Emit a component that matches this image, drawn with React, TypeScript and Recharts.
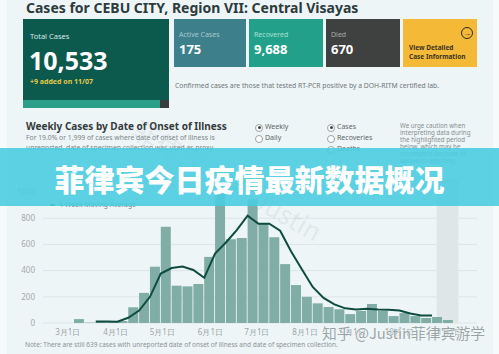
import React from 'react';
import { ComposedChart, Bar, Line, XAxis, YAxis, CartesianGrid, ReferenceArea } from 'recharts';

// week start dates (onset of illness, weekly buckets)
const weekStarts = [
  '2020-03-05', '2020-03-12', '2020-03-19', '2020-03-26', '2020-04-02', '2020-04-09', '2020-04-16',
  '2020-04-23', '2020-04-30', '2020-05-07', '2020-05-14', '2020-05-21', '2020-05-28', '2020-06-04',
  '2020-06-11', '2020-06-18', '2020-06-25', '2020-07-02', '2020-07-09', '2020-07-16', '2020-07-23',
  '2020-07-30', '2020-08-06', '2020-08-13', '2020-08-20', '2020-08-27', '2020-09-03', '2020-09-10',
  '2020-09-17', '2020-09-24', '2020-10-01', '2020-10-08', '2020-10-15', '2020-10-22', '2020-10-29',
];

const weeklyCases = [
  30, 3, 8, 6, 15, 120, 230, 430, 735, 285, 280, 298, 505, 1010, 640, 650, 945, 760,
  655, 450, 290, 200, 150, 122, 105, 68, 92, 145, 92, 53, 76, 53, 38, 46, 23,
];

// 4-week moving average (null = not drawn)
const movingAverage = [
  null, null, 12, 12, 10, 40, 95, 200, 378, 420, 432, 405, 345, 530, 615, 710, 820, 758,
  758, 705, 548, 410, 275, 192, 142, 112, 104, 108, 104, 102, 95, 72, 58, 58, null,
];

const monthTicks = [
  '2020-03-01', '2020-04-01', '2020-05-01', '2020-06-01', '2020-07-01',
  '2020-08-01', '2020-09-01', '2020-10-01', '2020-11-01',
];
const monthLabels = ['3月1日', '4月1日', '5月1日', '6月1日', '7月1日', '8月1日', '9月1日', '10月1日', '11月1日'];
const yTicks = [0, 200, 400, 600, 800, 1000];

const highlightFrom = '2020-10-25';
const highlightTo = '2020-11-07';

const dayOf = (iso: string) => {
  const [y, m, d] = iso.split('-').map(Number);
  return (Date.UTC(y, m - 1, d) - Date.UTC(2020, 2, 1)) / 86400000;
};

const barData = weekStarts.map((d, i) => ({ x: dayOf(d) + 3.5, cases: weeklyCases[i] }));
const lineData = weekStarts
  .map((d, i) => ({ t: dayOf(d), ma: movingAverage[i] }))
  .filter((p) => p.ma !== null);
const tickDays = monthTicks.map(dayOf);
const X_DOMAIN = [-16, 264];

const FONT = '"Noto Sans", "Open Sans", sans-serif';

function Txt({ x, y, size, color, weight = 400, children, style }: any) {
  return (
    <div
      style={{
        position: 'absolute', left: x, top: y - size * 0.6, fontSize: size, lineHeight: 1.2,
        color, fontWeight: weight, whiteSpace: 'nowrap', ...style,
      }}
    >
      {children}
    </div>
  );
}

function Card({ x, w, bg, label, value, labelColor }: any) {
  return (
    <div style={{ position: 'absolute', left: x, top: 19, width: w, height: 48, background: bg }}>
      <Txt x={5} y={16} size={7} color={labelColor}>{label}</Txt>
      <Txt x={5} y={31} size={13} color="#fff" weight={700}>{value}</Txt>
    </div>
  );
}

function WeeklyChart() {
  return (
    <ComposedChart
      width={499}
      height={173}
      data={barData}
      margin={{ top: 9, right: 22, bottom: 0, left: 13 }}
    >
      <CartesianGrid vertical={false} stroke="#dbe5e7" strokeWidth={1} />
      <ReferenceArea x1={dayOf(highlightFrom)} x2={dayOf(highlightTo) + 1} fill="#dfe6e7" fillOpacity={1} stroke="none" />
      <XAxis
        dataKey="x"
        type="number"
        domain={X_DOMAIN}
        ticks={tickDays}
        tickFormatter={(v: number) => monthLabels[tickDays.indexOf(v)]}
        axisLine={false}
        tickLine={false}
        tickSize={0}
        tickMargin={6}
        height={20}
        tick={{ fontSize: 8, fill: '#9aa6a8', fontFamily: FONT }}
        allowDataOverflow
      />
      {/* same time scale, used only by the moving-average line */}
      <XAxis xAxisId="ma" dataKey="t" type="number" domain={X_DOMAIN} hide allowDataOverflow />
      <YAxis
        type="number"
        domain={[0, 1100]}
        ticks={yTicks}
        axisLine={false}
        tickLine={false}
        width={30}
        tick={{ fontSize: 8, fill: '#a0aaac', fontFamily: FONT }}
      />
      <Bar dataKey="cases" fill="#80aea6" barSize={10} isAnimationActive={false} />
      <Line
        xAxisId="ma"
        data={lineData}
        dataKey="ma"
        type="linear"
        stroke="#0f4c40"
        strokeWidth={2}
        dot={false}
        isAnimationActive={false}
      />
    </ComposedChart>
  );
}

export default function App() {
  return (
    <div
      style={{
        position: 'absolute', left: 0, top: 0, width: 499, height: 354, overflow: 'hidden',
        background: '#f7fafb', fontFamily: FONT,
      }}
    >
      <div style={{ position: 'absolute', left: 7, top: 0, width: 486, height: 354, background: '#eef5f7' }} />

      {/* header */}
      <Txt x={26} y={8} size={14} color="#2c3b3c" weight={700}>
        Cases for CEBU CITY, Region VII: Central Visayas
      </Txt>

      <div style={{ position: 'absolute', left: 23, top: 19, width: 146, height: 89, background: '#0c5a4e' }}>
        <Txt x={7} y={17} size={7.5} color="#d8e8e4">Total Cases</Txt>
        <Txt x={6} y={41} size={25} color="#fff" weight={700}>10,533</Txt>
        <Txt x={7} y={63} size={7} color="#e3c94a" weight={700}>+9 added on 11/07</Txt>
        <div style={{ position: 'absolute', left: 0, top: 81, width: 137, height: 8, background: '#2b9f8a' }} />
        <div style={{ position: 'absolute', left: 137, top: 81, width: 9, height: 8, background: '#3a3d3d' }} />
      </div>

      <Card x={174} w={72} bg="#3d7f8b" label="Active Cases" value="175" labelColor="#a8c9cd" />
      <Card x={249} w={74} bg="#22a089" label="Recovered" value="9,688" labelColor="#a7e0d3" />
      <Card x={326} w={74} bg="#3f4040" label="Died" value="670" labelColor="#a9aaaa" />
      <div style={{ position: 'absolute', left: 403, top: 19, width: 74, height: 48, background: '#f4b937' }}>
        <Txt x={6} y={29} size={6.5} color="#3b3320" weight={700}>View Detailed</Txt>
        <Txt x={6} y={38} size={6.5} color="#3b3320" weight={700}>Case Information</Txt>
        <div
          style={{
            position: 'absolute', left: 58, top: 8, width: 10, height: 10, borderRadius: 6,
            border: '1.5px solid #2f2a1c', fontSize: 8, lineHeight: '10px', textAlign: 'center',
            color: '#2f2a1c', fontWeight: 700,
          }}
        >
          →
        </div>
      </div>
      <Txt x={175} y={86} size={6.8} color="#6c7677">
        Confirmed cases are those that tested RT-PCR positive by a DOH-RITM certified lab.
      </Txt>

      {/* chart section header */}
      <Txt x={26} y={126} size={10} color="#333b3c" weight={700}>Weekly Cases by Date of Onset of Illness</Txt>
      <Txt x={26} y={138} size={6.8} color="#7b8586">
        For 19.0% or 1,999 of cases where date of onset of illness is
      </Txt>
      <Txt x={26} y={148} size={6.8} color="#7b8586">
        unreported, date of specimen collection was used as proxy.
      </Txt>

      {[
        ['Weekly', 255, 127, true], ['Daily', 255, 138, false],
        ['Cases', 327, 127, true], ['Recoveries', 327, 138, false], ['Deaths', 327, 149, false],
      ].map(([label, x, y, on]: any) => (
        <React.Fragment key={label}>
          <div
            style={{
              position: 'absolute', left: x, top: y - 3.5, width: 6, height: 6, borderRadius: 4,
              border: '0.8px solid #9aa4a5', background: '#fff',
            }}
          >
            {on && <div style={{ position: 'absolute', left: 1.5, top: 1.5, width: 3, height: 3, borderRadius: 2, background: '#444' }} />}
          </div>
          <Txt x={x + 10} y={y} size={7} color="#5c6667">{label}</Txt>
        </React.Fragment>
      ))}

      {['We urge caution when', 'interpreting data during', 'the highlighted period', 'below, which may be', 'incomplete because of', 'delays in reporting.'].map(
        (s, i) => (
          <Txt key={s} x={400} y={126 + i * 7} size={6.2} color="#858f90">{s}</Txt>
        ),
      )}

      {/* chart */}
      <div style={{ position: 'absolute', left: 0, top: 170, width: 499, height: 173 }}>
        <WeeklyChart />
      </div>

      {/* legend */}
      <div style={{ position: 'absolute', left: 50, top: 204, width: 5, height: 1.5, background: '#0f4c40' }} />
      <Txt x={59} y={205} size={6.8} color="#7b8586">4-Week Moving Average</Txt>

      <Txt x={25} y={345} size={6.5} color="#8a9495">
        Note: There are still 639 cases with unreported date of onset of illness and date of specimen collection.
      </Txt>

      {/* faint diagonal watermark */}
      <div
        style={{
          position: 'absolute', left: 145, top: 110, fontSize: 26, color: 'rgba(150,168,168,0.16)',
          transform: 'rotate(30deg)', transformOrigin: 'left top', whiteSpace: 'nowrap',
          fontFamily: '"Noto Sans CJK SC", sans-serif',
        }}
      >
        菲律宾游学-Justin
      </div>

      {/* banner overlay */}
      <div
        style={{
          position: 'absolute', left: 0, top: 148, width: 499, height: 58,
          background: 'rgba(74, 205, 224, 0.9)',
        }}
      />
      <div
        style={{
          position: 'absolute', left: 0, top: 160, width: 499, textAlign: 'center', fontSize: 30,
          lineHeight: '36px', fontWeight: 900, color: '#fff', letterSpacing: 0,
          fontFamily: '"Noto Sans CJK SC", sans-serif',
        }}
      >
        菲律宾今日疫情最新数据概况
      </div>

      {/* bottom-right watermark */}
      <div
        style={{
          position: 'absolute', left: 322, top: 323, fontSize: 14.8, lineHeight: '20px', whiteSpace: 'nowrap',
          color: '#97a5a6', fontFamily: '"Noto Sans CJK SC", sans-serif',
          textShadow: '0 0 1px #fff, 0 0 1px #fff',
        }}
      >
        知乎 @Justin菲律宾游学
      </div>
    </div>
  );
}
